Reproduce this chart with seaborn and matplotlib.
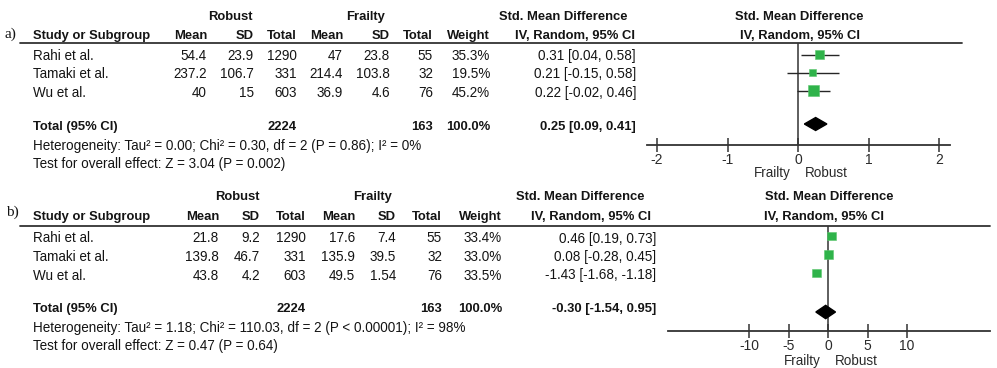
import matplotlib
matplotlib.use("Agg")
import matplotlib.pyplot as plt
from matplotlib.lines import Line2D
import seaborn as sns
import pandas as pd

sns.set_theme(style="white")
plt.rcParams["font.family"] = ["Liberation Sans", "DejaVu Sans"]

# ---------------- data ----------------
studies = ["Rahi et al.", "Tamaki et al.", "Wu et al."]

a_rob_mean = [54.4, 237.2, 40]
a_rob_sd = [23.9, 106.7, 15]
a_rob_n = [1290, 331, 603]
a_fra_mean = [47, 214.4, 36.9]
a_fra_sd = [23.8, 103.8, 4.6]
a_fra_n = [55, 32, 76]
a_weight = [35.3, 19.5, 45.2]
a_smd = [0.31, 0.21, 0.22]
a_lo = [0.04, -0.15, -0.02]
a_hi = [0.58, 0.58, 0.46]
a_total = [0.25, 0.09, 0.41]
a_n_total = [2224, 163]
a_het = "Heterogeneity: Tau\u00b2 = 0.00; Chi\u00b2 = 0.30, df = 2 (P = 0.86); I\u00b2 = 0%"
a_test = "Test for overall effect: Z = 3.04 (P = 0.002)"
a_ticks = [-2, -1, 0, 1, 2]

b_rob_mean = [21.8, 139.8, 43.8]
b_rob_sd = [9.2, 46.7, 4.2]
b_rob_n = [1290, 331, 603]
b_fra_mean = [17.6, 135.9, 49.5]
b_fra_sd = [7.4, 39.5, 1.54]
b_fra_n = [55, 32, 76]
b_weight = [33.4, 33.0, 33.5]
b_smd = [0.46, 0.08, -1.43]
b_lo = [0.19, -0.28, -1.68]
b_hi = [0.73, 0.45, -1.18]
b_total = [-0.30, -1.54, 0.95]
b_n_total = [2224, 163]
b_het = "Heterogeneity: Tau\u00b2 = 1.18; Chi\u00b2 = 110.03, df = 2 (P < 0.00001); I\u00b2 = 98%"
b_test = "Test for overall effect: Z = 0.47 (P = 0.64)"
b_ticks = [-10, -5, 0, 5, 10]

# ---------------- figure ----------------
W, H = 997, 368
fig = plt.figure(figsize=(W / 100, H / 100), dpi=100)
fig.patch.set_facecolor("white")

TC = "#141414"
FS_B = 9.4
FS_R = 9.75
GREEN = "#2fb34a"


def fx(x):
    return x / W


def fy(y):
    return 1 - y / H


def txt(x, y, s, ha="left", bold=False, size=None, family=None, color=TC):
    kw = {}
    if family:
        kw["family"] = family
    if size is None:
        size = FS_B if bold else FS_R
    fig.text(fx(x), fy(y), s, ha=ha, va="center", fontsize=size,
             fontweight="bold" if bold else "normal", color=color, **kw)


def hline(x0, x1, y, lw=1.3, color="#333333"):
    fig.add_artist(Line2D([fx(x0), fx(x1)], [fy(y), fy(y)],
                          transform=fig.transFigure, color=color, lw=lw))


def g(v):
    return f"{v:g}"


def panel(L, rm, rs, rn, fm, fs, fn, wt, smd, lo, hi, tot, ntot, het, test, ticks):
    # headers
    txt(L["lab_x"], L["lab_y"], L["lab"], size=11, family=["Liberation Serif", "DejaVu Serif"])
    txt(L["robust_c"], L["h1"], "Robust", ha="center", bold=True)
    txt(L["frailty_c"], L["h1"], "Frailty", ha="center", bold=True)
    txt(L["smd1_c"], L["h1"], "Std. Mean Difference", ha="center", bold=True)
    txt(L["smd2_c"], L["h1"], "Std. Mean Difference", ha="center", bold=True)
    txt(33, L["h2"], "Study or Subgroup", bold=True)
    c = L["cols"]
    for x, s in zip(c[:7], ["Mean", "SD", "Total", "Mean", "SD", "Total", "Weight"]):
        txt(x, L["h2"], s, ha="right", bold=True)
    txt(L["iv1_c"], L["h2"], "IV, Random, 95% CI", ha="center", bold=True)
    txt(L["iv2_c"], L["h2"], "IV, Random, 95% CI", ha="center", bold=True)
    hline(20, L["line_r"], L["line_y"])

    # rows
    for i, st in enumerate(studies):
        y = L["ty0"] + L["dy"] * i
        txt(33, y, st)
        vals = [g(rm[i]), g(rs[i]), g(rn[i]), g(fm[i]), g(fs[i]), g(fn[i]),
                f"{wt[i]:.1f}%", f"{smd[i]:.2f} [{lo[i]:.2f}, {hi[i]:.2f}]"]
        for x, s in zip(c, vals):
            txt(x, y, s, ha="right")
    yt = L["ttot"]
    txt(33, yt, "Total (95% CI)", bold=True)
    txt(c[2], yt, g(ntot[0]), ha="right", bold=True)
    txt(c[5], yt, g(ntot[1]), ha="right", bold=True)
    txt(c[6], yt, "100.0%", ha="right", bold=True)
    txt(c[7], yt, f"{tot[0]:.2f} [{tot[1]:.2f}, {tot[2]:.2f}]", ha="right", bold=True)
    txt(33, L["het_y"], het)
    txt(33, L["test_y"], test)

    # forest axes
    x0, x1, ytop, ybot = L["ax_px"]
    ax = fig.add_axes([fx(x0), fy(ybot), (x1 - x0) / W, (ybot - ytop) / H])
    ax.patch.set_alpha(0)
    df = pd.DataFrame({"smd": smd, "lo": lo, "hi": hi, "w": wt,
                       "row": list(range(len(smd)))})
    ax.hlines(df["row"], df["lo"], df["hi"], color="#262626", lw=1.0, zorder=2)
    sns.scatterplot(data=df, x="smd", y="row", size="w", sizes=(0, 116.6),
                    size_norm=(0, 100), marker="s", color=GREEN,
                    edgecolor="#5cc76e", linewidth=0.4, legend=False, ax=ax, zorder=3)
    tp = L["tot_idx"]
    h = L["dia_h"]
    ax.fill([tot[1], tot[0], tot[2], tot[0]], [tp, tp - h, tp, tp + h],
            color="black", zorder=3)
    ax.axvline(0, color="#333333", lw=1.1, zorder=1)
    ax.set_xlim(L["xlim"])
    ax.set_ylim(L["ylim"])
    ax.set_xticks(ticks)
    ax.set_xticklabels([g(t) for t in ticks])
    ax.set_yticks([])
    ax.set_xlabel("")
    ax.set_ylabel("")
    for sp in ["top", "left", "right"]:
        ax.spines[sp].set_visible(False)
    ax.spines["bottom"].set_color("#333333")
    ax.spines["bottom"].set_linewidth(1.3)
    ax.tick_params(axis="x", direction="inout", length=10, width=1.1,
                   color="#333333", pad=1, labelsize=10, labelcolor="#2a2a2a",
                   bottom=True)
    ax.annotate("Frailty", xy=(0, 0), xycoords=("data", "axes fraction"),
                xytext=(-5, -L["fr_off"]), textcoords="offset points",
                ha="right", va="center", fontsize=FS_R, color="#2a2a2a")
    ax.annotate("Robust", xy=(0, 0), xycoords=("data", "axes fraction"),
                xytext=(5, -L["fr_off"]), textcoords="offset points",
                ha="left", va="center", fontsize=FS_R, color="#2a2a2a")
    return ax


LA = dict(lab="a)", lab_x=4, lab_y=34, h1=17, h2=36,
          robust_c=230, frailty_c=366, smd1_c=563, smd2_c=799,
          iv1_c=575, iv2_c=800,
          cols=[207, 254, 297, 343, 390, 433, 490, 636],
          line_r=962, line_y=43, ty0=56, dy=18.3, ttot=127,
          het_y=146, test_y=164,
          ax_px=(647, 950, 43, 145),
          xlim=(-2.142, 2.156), ylim=((145 - 54.5) / 18, (43 - 54.5) / 18),
          tot_idx=(124 - 54.5) / 18, dia_h=0.36, fr_off=20.5)

LB = dict(lab="b)", lab_x=6, lab_y=212, h1=197, h2=217,
          robust_c=237, frailty_c=373, smd1_c=580, smd2_c=829,
          iv1_c=591, iv2_c=824,
          cols=[219, 260, 306, 355, 396, 442, 502, 656],
          line_r=990, line_y=226, ty0=238.5, dy=18.5, ttot=309,
          het_y=328, test_y=346,
          ax_px=(668, 990, 226, 331),
          xlim=(-20.25, 20.5), ylim=((331 - 236) / 18.5, (226 - 236) / 18.5),
          tot_idx=(312 - 236) / 18.5, dia_h=0.36, fr_off=21.5)

panel(LA, a_rob_mean, a_rob_sd, a_rob_n, a_fra_mean, a_fra_sd, a_fra_n, a_weight,
      a_smd, a_lo, a_hi, a_total, a_n_total, a_het, a_test, a_ticks)
panel(LB, b_rob_mean, b_rob_sd, b_rob_n, b_fra_mean, b_fra_sd, b_fra_n, b_weight,
      b_smd, b_lo, b_hi, b_total, b_n_total, b_het, b_test, b_ticks)

fig.savefig("out.png", dpi=100, facecolor="white")
